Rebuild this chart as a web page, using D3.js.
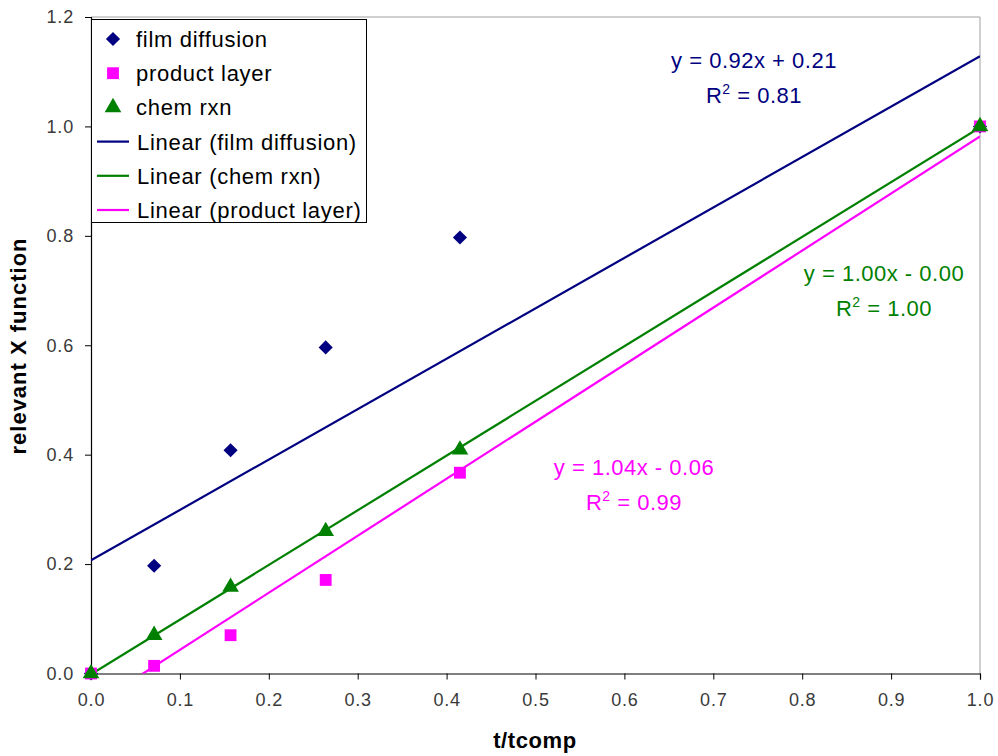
<!DOCTYPE html>
<html>
<head>
<meta charset="utf-8">
<script src="https://cdn.jsdelivr.net/npm/d3@7"></script>
<style>
  body { margin: 0; background: #fff; }
  text { font-family: "Liberation Sans", Arial, sans-serif; }
</style>
</head>
<body>
<svg id="chart" width="998" height="756"></svg>
<script>
// data
const tValues = [0, 0.071, 0.157, 0.264, 0.415, 1.0];
const filmDiffusion = [0, 0.197, 0.408, 0.596, 0.797, 1.0];
const productLayer = [0, 0.014, 0.070, 0.171, 0.367, 1.0];
const chemRxn = [0, 0.070, 0.158, 0.260, 0.409, 1.0];

const xTicks = [0, 0.1, 0.2, 0.3, 0.4, 0.5, 0.6, 0.7, 0.8, 0.9, 1.0];
const yTicks = [0, 0.2, 0.4, 0.6, 0.8, 1.0, 1.2];

const series = [
    { name: 'film diffusion', values: filmDiffusion, color: '#000080', symbol: d3.symbolSquare, rotate: 45, size: 100,
      eq: ['y = 0.92x + 0.21', '0.81'], label: [754, 68] },
    { name: 'product layer', values: productLayer, color: '#ff00ff', symbol: d3.symbolSquare, rotate: 0, size: 140,
      eq: ['y = 1.04x - 0.06', '0.99'], label: [634, 475] },
    { name: 'chem rxn', values: chemRxn, color: '#008000', symbol: d3.symbolTriangle, rotate: 0, size: 120,
      eq: ['y = 1.00x - 0.00', '1.00'], label: [884, 281] },
];
const trendOrder = ['film diffusion', 'chem rxn', 'product layer'];

const fit = (xs, ys) => {
    const mx = d3.mean(xs),
        my = d3.mean(ys);
    let sxy = 0, sxx = 0;
    xs.forEach((x, i) => {
        sxy += (x - mx) * (ys[i] - my);
        sxx += (x - mx) * (x - mx);
    });
    const slope = sxy / sxx;
    return { slope, intercept: my - slope * mx };
};

const svg = d3.select('#chart');
const plotLeft = 91, plotRight = 980, plotTop = 17, plotBottom = 673.5;

const xScale = d3.scaleLinear().domain([0, 1]).range([plotLeft, plotRight]);
const yScale = d3.scaleLinear().domain([0, 1.2]).range([plotBottom, plotTop]);

// plot border (light grey top/right)
svg.append('path')
    .attr('d', `M${plotLeft},${plotTop}H${plotRight}V${plotBottom}`)
    .attr('fill', 'none')
    .attr('stroke', '#a0a0a0')
    .attr('stroke-width', 1);

svg.append('defs').append('clipPath').attr('id', 'plot-clip')
    .append('rect')
    .attr('x', plotLeft).attr('y', plotTop)
    .attr('width', plotRight - plotLeft).attr('height', plotBottom - plotTop);

const xAxis = svg.append('g')
    .attr('transform', `translate(0,${plotBottom})`)
    .call(d3.axisBottom(xScale).tickValues(xTicks).tickFormat(d3.format('.1f')).tickSize(6).tickPadding(14));

const yAxis = svg.append('g')
    .attr('transform', `translate(${plotLeft},0)`)
    .call(d3.axisLeft(yScale).tickValues(yTicks).tickFormat(d3.format('.1f')).tickSize(6).tickPadding(11));

[xAxis, yAxis].forEach(axis => {
    axis.select('.domain').attr('stroke', '#000').attr('stroke-width', 1.2);
    axis.selectAll('.tick line').attr('stroke', '#000');
    axis.selectAll('.tick text')
        .attr('fill', '#3a3a3a')
        .attr('font-size', 18)
        .attr('letter-spacing', 0.8)
        .style('font-family', '"Liberation Sans", Arial, sans-serif');
});

svg.append('text')
    .attr('x', 535).attr('y', 748)
    .attr('text-anchor', 'middle')
    .attr('font-size', 22).attr('font-weight', 'bold')
    .attr('letter-spacing', 0.6)
    .text('t/tcomp');

svg.append('text')
    .attr('transform', 'translate(26,346) rotate(-90)')
    .attr('text-anchor', 'middle')
    .attr('font-size', 22).attr('font-weight', 'bold')
    .attr('letter-spacing', 1)
    .text('relevant X function');

// trendlines
const plot = svg.append('g').attr('clip-path', 'url(#plot-clip)');
trendOrder.forEach(name => {
    const s = series.find(d => d.name === name);
    const { slope, intercept } = fit(tValues, s.values);
    plot.append('line')
        .attr('x1', xScale(0)).attr('y1', yScale(intercept))
        .attr('x2', xScale(1)).attr('y2', yScale(slope + intercept))
        .attr('stroke', s.color)
        .attr('stroke-width', 2.2);
});

// markers
const marker = s => d3.symbol().type(s.symbol).size(s.size);
series.forEach(s => {
    svg.append('g')
        .selectAll('path')
        .data(tValues.map((t, i) => [t, s.values[i]]))
        .join('path')
        .attr('transform', d => `translate(${xScale(d[0])},${yScale(d[1])}) rotate(${s.rotate})`)
        .attr('d', marker(s))
        .attr('fill', s.color);
});

// equation labels
series.forEach(s => {
    const g = svg.append('g')
        .attr('fill', s.color)
        .attr('font-size', 22)
        .attr('letter-spacing', 0.5)
        .attr('text-anchor', 'middle');
    g.append('text')
        .attr('x', s.label[0]).attr('y', s.label[1])
        .text(s.eq[0]);
    const r = g.append('text')
        .attr('x', s.label[0]).attr('y', s.label[1] + 35);
    r.append('tspan').text('R');
    r.append('tspan').attr('font-size', 14).attr('dy', -9).text('2');
    r.append('tspan').attr('dy', 9).text(' = ' + s.eq[1]);
});

// legend
const legend = svg.append('g');
legend.append('rect')
    .attr('x', 91.5).attr('y', 19.5)
    .attr('width', 275).attr('height', 203)
    .attr('fill', '#fff')
    .attr('stroke', '#000');

const legendItems = [
    ...series.map(s => ({ kind: 'marker', s, text: s.name })),
    ...trendOrder.map(name => {
        const s = series.find(d => d.name === name);
        return { kind: 'line', s, text: `Linear (${name})` };
    })
];

legendItems.forEach((item, i) => {
    const y = 39 + i * 34.2;
    if (item.kind === 'marker') {
        legend.append('path')
            .attr('transform', `translate(113,${y}) rotate(${item.s.rotate})`)
            .attr('d', marker(item.s))
            .attr('fill', item.s.color);
    } else {
        legend.append('line')
            .attr('x1', 97).attr('x2', 129)
            .attr('y1', y).attr('y2', y)
            .attr('stroke', item.s.color)
            .attr('stroke-width', 2.2);
    }
    legend.append('text')
        .attr('x', item.kind === 'marker' ? 136 : 137)
        .attr('y', y + 8)
        .attr('font-size', 22)
        .attr('letter-spacing', 0.7)
        .attr('fill', '#000')
        .text(item.text);
});
</script>
</body>
</html>
